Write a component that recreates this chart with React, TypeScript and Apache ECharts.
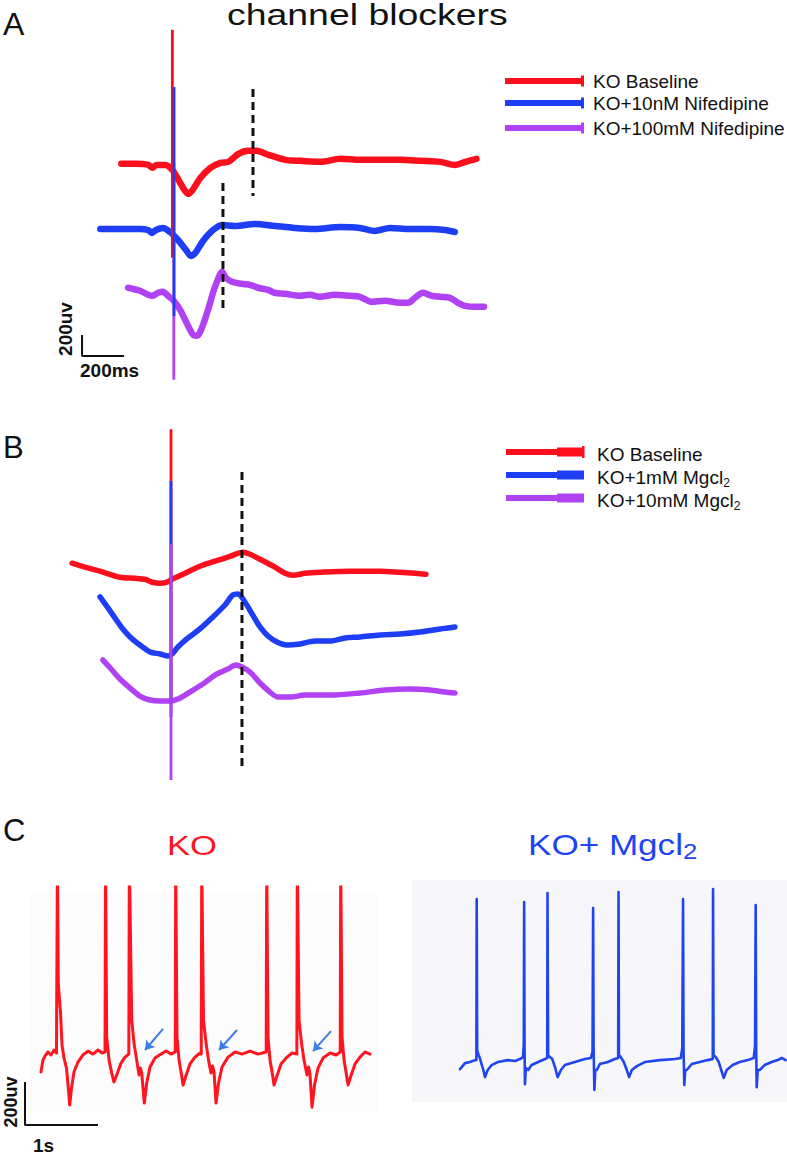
import React, { useEffect, useRef } from "react";
import * as echarts from "echarts";

// ---------- Panel A : ms from stimulus, µV relative to each trace baseline ----------
const redA: number[][] = [
  [-248, 0], [-181, 0], [-119, -10], [-100, -38], [-81, -10], [-38, -10], [-5, -57], [24, -152], [52, -248],
  [71, -286], [95, -238], [129, -133], [176, -38], [224, 10], [262, 19], [310, 95], [357, 124], [395, 124],
  [452, 86], [533, 38], [605, 29], [700, 19], [795, 48], [890, 38], [986, 38], [1081, 38], [1176, 29],
  [1271, 19], [1343, -10], [1390, 19], [1443, 48],
];
const blueA: number[][] = [
  [-348, 0], [-252, 0], [-159, 0], [-121, -10], [-102, -38], [-83, -10], [-50, 10], [-16, -29], [22, -105],
  [60, -200], [84, -257], [108, -219], [141, -114], [184, -19], [232, 38], [293, 29], [389, 48], [484, 29],
  [579, 10], [674, 0], [793, 19], [888, 10], [960, -19], [1031, 10], [1126, 0], [1221, 0], [1293, -10], [1340, -29],
];
const purpleA: number[][] = [
  [-216, 10], [-159, -19], [-102, -67], [-73, -38], [-50, -29], [-26, -67], [-2, -105], [32, -200], [65, -333],
  [94, -438], [113, -448], [136, -371], [165, -200], [193, -10], [217, 114], [231, 162], [250, 105], [279, 67],
  [326, 48], [364, 38], [403, 10], [450, -10], [483, -38], [531, -48], [603, -67], [650, -57], [698, -76],
  [769, -57], [841, -67], [888, -76], [945, -124], [1007, -114], [1079, -133], [1117, -133], [1150, -86],
  [1188, -38], [1231, -67], [1269, -76], [1317, -86], [1355, -133], [1388, -162], [1436, -171], [1479, -171],
];
const offsetsA = [2230, 1610, 1040]; // red, blue, purple
// stimulus artefacts: [time, up, down] relative to baseline
const spikeRedA = [-5, 1276, -895];
const spikeBlueA = [3, 1352, -829];
const spikePurpleA = [2, 1200, -867];
const dashA1 = [[379, 2943], [379, 1924]];
const dashA2 = [[236, 2048], [236, 819]];
const scaleA = [[-435, 600], [-435, 400], [-235, 400]];

// ---------- Panel B ----------
const redB: number[][] = [
  [-471, 86], [-410, 48], [-338, 10], [-243, -48], [-171, -57], [-124, -67], [-90, -95], [-52, -105], [-19, -95],
  [5, -67], [67, -10], [138, 57], [210, 105], [281, 152], [343, 190], [376, 171], [433, 114], [495, 48],
  [543, -10], [581, -29], [638, -10], [710, 0], [852, 10], [995, 10], [1090, 0], [1162, -10], [1214, -19],
];
const blueB: number[][] = [
  [-338, 410], [-300, 305], [-267, 210], [-233, 114], [-195, 29], [-148, -48], [-100, -114], [-52, -133],
  [-14, -152], [5, -133], [33, -67], [81, 19], [138, 105], [195, 210], [257, 333], [295, 429], [319, 438],
  [352, 362], [386, 248], [424, 124], [462, 38], [505, -19], [552, -48], [614, -38], [686, -10], [757, -10],
  [829, 19], [900, 29], [995, 48], [1090, 57], [1186, 76], [1281, 105], [1352, 124],
];
const purpleB: number[][] = [
  [-324, 324], [-281, 229], [-243, 143], [-195, 57], [-148, -19], [-100, -57], [-52, -67], [-5, -67], [33, -48],
  [90, 19], [152, 95], [210, 181], [271, 238], [309, 276], [338, 257], [376, 210], [424, 105], [471, 19],
  [510, -29], [567, -29], [638, -10], [757, -10], [900, 10], [1019, 38], [1138, 48], [1233, 38], [1305, 19], [1352, 10],
];
const offsetsB = [2150, 1505, 990];
const spikeRedB = [0, 1362, -1219];
const spikeBlueB = [0, 1514, -733];
const spikePurpleB = [0, 1429, -819];
const dashB = [[338, 3105], [338, 276]];

// ---------- Panel C (ms, µV) ----------
const koC: number[][] = [
  [315, -80], [342, -25], [370, -6], [411, 13], [452, -1], [493, 22], [527, 8], [534, 8], [540, 900], [552, 333],
  [569, 254], [582, 199], [603, 45], [630, -15], [664, -62], [692, -164], [708, -234], [733, -155], [767, -80],
  [822, -34], [890, -1], [959, 17], [1028, 3], [1096, 22], [1151, 8], [1192, 13],
  [1199, 900], [1215, 82], [1247, -25], [1284, -85], [1315, -127], [1352, -94], [1411, -39], [1466, -11], [1518, 3],
  [1525, 900], [1558, 161], [1589, 54], [1626, -25], [1658, -94], [1676, -62], [1695, -85], [1730, -225],
  [1763, -132], [1808, -57], [1877, -15], [1959, 3], [2028, 17], [2096, 3], [2154, 13],
  [2160, 900], [2178, 82], [2206, -25], [2240, -94], [2261, -141], [2295, -104], [2356, -43], [2425, -11],
  [2493, 8], [2510, 3],
  [2517, 900], [2541, 161], [2576, 54], [2610, -25], [2644, -85], [2665, -52], [2685, -80], [2713, -225],
  [2747, -132], [2795, -57], [2877, -11], [2973, 13], [3069, 3], [3178, 17], [3288, 3], [3400, 13],
  [3407, 900], [3425, 82], [3452, -25], [3487, -94], [3507, -141], [3542, -104], [3603, -43], [3685, -11],
  [3754, 8], [3820, 3],
  [3826, 900], [3850, 161], [3884, 54], [3918, -25], [3959, -94], [3980, -57], [4000, -90], [4028, -244],
  [4062, -141], [4110, -62], [4179, -15], [4274, 8], [4357, -1], [4414, 13],
  [4421, 900], [4439, 82], [4466, -25], [4500, -94], [4521, -141], [4555, -104], [4617, -43], [4685, -11],
  [4754, 13], [4822, 3],
];
const mgC: number[][] = [
  [575, -67], [644, -39], [712, -34], [781, -25], [800, -25], [804, 724], [811, 22], [829, -1], [843, -11],
  [863, -34], [895, -71], [918, -104], [955, -71], [1009, -48], [1095, -34], [1232, -25], [1328, -29],
  [1397, -20], [1438, -11], [1449, 45], [1454, 710], [1460, 22], [1465, -137], [1478, -62], [1510, -71],
  [1556, -48], [1647, -34], [1739, -20], [1770, -15], [1774, 752], [1783, -1], [1807, -11], [1839, -20],
  [1876, -57], [1913, -104], [1958, -71], [2012, -48], [2149, -34], [2286, -20], [2368, -15], [2391, 13],
  [2399, 682], [2406, 22], [2416, -164], [2429, -71], [2450, -71], [2491, -43], [2600, -34], [2696, -20],
  [2742, -15], [2747, 757], [2753, -1], [2778, -11], [2819, -34], [2860, -71], [2892, -104], [2929, -71],
  [2997, -53], [3107, -34], [3312, -25], [3518, -20], [3600, -15], [3620, 31], [3631, 724], [3638, 22],
  [3648, -141], [3661, -71], [3682, -71], [3750, -43], [3860, -34], [3969, -25], [4038, -20], [4042, 771],
  [4049, -1], [4079, -11], [4120, -34], [4154, -71], [4188, -108], [4229, -71], [4311, -48], [4407, -34],
  [4517, -25], [4599, -15], [4617, 40], [4626, 696], [4633, 31], [4640, -151], [4654, -71], [4681, -71],
  [4749, -48], [4845, -34], [4927, -25], [4982, -15], [5037, -25],
];
const arrowsC = [
  [[1987, 120], [1740, 22]],
  [[3000, 115], [2754, 22]],
  [[4288, 110], [4042, 17]],
];
const scaleC = [[96, -127], [96, -327], [1096, -327]];

const legendA = ["KO Baseline", "KO+10nM Nifedipine", "KO+100mM Nifedipine"];
const legendB = ["KO Baseline", "KO+1mM Mgcl", "KO+10mM Mgcl"];

const RED = "#fc0f1d";
const BLUE = "#1d3ef4";
const PURPLE = "#b042f4";
const FONT = "Liberation Sans, Arial, sans-serif";

function buildOption() {
  const trace = (g: number, data: number[][], off: number, color: string, width: number, smooth: number | boolean) => ({
    type: "line", xAxisIndex: g, yAxisIndex: g, silent: true, symbol: "none", smooth,
    data: data.map(([t, v]) => [t, v + off]),
    lineStyle: { color, width, cap: "round", join: "round" },
  });
  const spike = (g: number, s: number[], off: number, color: string) => ({
    type: "line", xAxisIndex: g, yAxisIndex: g, silent: true, symbol: "none",
    data: [[s[0], off + s[1]], [s[0], off + s[2]]],
    lineStyle: { color, width: 2.8, cap: "butt" },
  });
  const plain = (g: number, data: number[][], color: string, width: number, type: any) => ({
    type: "line", xAxisIndex: g, yAxisIndex: g, silent: true, symbol: "none", data,
    lineStyle: { color, width, type, cap: "butt" },
  });
  const colorsAB = [RED, BLUE, PURPLE];

  const series: any[] = [
    trace(0, redA, offsetsA[0], RED, 6.5, 0.3),
    trace(0, blueA, offsetsA[1], BLUE, 6.5, 0.3),
    trace(0, purpleA, offsetsA[2], PURPLE, 6.5, 0.3),
    spike(0, spikePurpleA, offsetsA[2], PURPLE),
    spike(0, spikeRedA, offsetsA[0], RED),
    spike(0, spikeBlueA, offsetsA[1], BLUE),
    plain(0, dashA1, "#111", 3, [8, 5]),
    plain(0, dashA2, "#111", 3, [8, 5]),
    plain(0, scaleA, "#111", 2, "solid"),

    trace(1, redB, offsetsB[0], RED, 5.5, 0.3),
    trace(1, blueB, offsetsB[1], BLUE, 5.5, 0.3),
    trace(1, purpleB, offsetsB[2], PURPLE, 5.5, 0.3),
    spike(1, spikeRedB, offsetsB[0], RED),
    spike(1, spikeBlueB, offsetsB[1], BLUE),
    spike(1, spikePurpleB, offsetsB[2], PURPLE),
    plain(1, dashB, "#111", 3, [8, 5]),

    {
      ...trace(2, koC, 0, "#ff1420", 3, false),
      markLine: {
        silent: true, symbol: ["none", "arrow"], symbolSize: 9, animation: false,
        label: { show: false },
        lineStyle: { color: "#3d7be8", width: 2, type: "solid" },
        data: arrowsC.map(([a, b]) => [{ coord: a }, { coord: b }]),
      },
    },
    plain(2, scaleC, "#111", 2, "solid"),
    trace(3, mgC, 0, "#1f45f0", 2.6, false),
  ];

  const grid = [
    { left: 60, top: 20, width: 441, height: 378 },
    { left: 57.6, top: 420, width: 441, height: 378 },
    { left: 18, top: 887, width: 365, height: 243 },
    { left: 418, top: 887, width: 369, height: 243 },
  ].map((g) => ({ ...g, show: false, containLabel: false, outerBoundsMode: "none" }));
  const xr = [[-540, 1560], [-540, 1560], [0, 5000], [0, 5055]];
  const yr = [[0, 3600], [0, 3600], [-350, 780], [-350, 780]];
  const xAxis = xr.map((r, i) => ({ type: "value", gridIndex: i, min: r[0], max: r[1], show: false }));
  const yAxis = yr.map((r, i) => ({ type: "value", gridIndex: i, min: r[0], max: r[1], show: false }));

  const txt = (x: number, y: number, text: string, size: number, extra: any = {}, el: any = {}) => ({
    type: "text", x, y, silent: true, ...el,
    style: { text, fontSize: size, fontFamily: FONT, fill: "#111", align: "left", verticalAlign: "middle", ...extra },
  });

  const graphic: any[] = [
    { type: "rect", shape: { x: 30, y: 892, width: 348, height: 221 }, style: { fill: "#fcfcfd" }, z: -10, silent: true },
    { type: "rect", shape: { x: 412, y: 880, width: 375, height: 222 }, style: { fill: "#f7f7f9" }, z: -10, silent: true },
    txt(3, 24, "A", 32),
    txt(3, 447, "B", 31),
    txt(3, 830, "C", 31),
    txt(227, 15, "channel blockers", 29, {}, { scaleX: 1.29 }),
    txt(65, 329, "200uv", 19, { fontWeight: "bold", align: "center" }, { rotation: Math.PI / 2 }),
    txt(80, 370, "200ms", 19, { fontWeight: "bold" }),
    txt(11, 1102, "200uv", 18, { fontWeight: "bold", align: "center" }, { rotation: Math.PI / 2 }),
    txt(33, 1145, "1s", 19, { fontWeight: "bold" }),
    txt(167, 846, "KO", 27, { fill: "#ff1420" }, { scaleX: 1.28 }),
    {
      type: "text", x: 528, y: 844, scaleX: 1.17, silent: true,
      style: {
        text: "{a|KO+ Mgcl}{s|2}", fill: "#1f45f0", fontFamily: FONT, align: "left", verticalAlign: "middle",
        rich: {
          a: { fontSize: 30, lineHeight: 36, fontFamily: FONT, fill: "#1f45f0" },
          s: { fontSize: 22, lineHeight: 14, verticalAlign: "bottom", fontFamily: FONT, fill: "#1f45f0" },
        },
      },
    },
  ];
  // legend A
  const lyA = [81, 103, 128];
  legendA.forEach((label, i) => {
    const y = lyA[i];
    graphic.push({ type: "rect", shape: { x: 505, y: y - 3, width: 78, height: 6 }, style: { fill: colorsAB[i] }, silent: true });
    graphic.push({ type: "rect", shape: { x: 581, y: y - 5.5, width: 3, height: 11 }, style: { fill: colorsAB[i] }, silent: true });
    graphic.push(txt(593, y, label, 19));
  });
  // legend B
  const lyB = [452, 475, 498];
  legendB.forEach((label, i) => {
    const y = lyB[i];
    graphic.push({ type: "rect", shape: { x: 506, y: y - 3, width: 52, height: 6 }, style: { fill: colorsAB[i] }, silent: true });
    graphic.push({ type: "rect", shape: { x: 557, y: y - 4.5, width: 27, height: 9 }, style: { fill: colorsAB[i] }, silent: true });
    if (i === 0) graphic.push({ type: "rect", shape: { x: 582, y: y - 6, width: 2.5, height: 12 }, style: { fill: colorsAB[i] }, silent: true });
    const text = i === 0 ? "{a|" + label + "}" : "{a|" + label + "}{s|2}";
    graphic.push({
      type: "text", x: 597, y: y + 2, silent: true,
      style: {
        text, fill: "#111", fontFamily: FONT, align: "left", verticalAlign: "middle",
        rich: {
          a: { fontSize: 19, lineHeight: 24, fontFamily: FONT, fill: "#111" },
          s: { fontSize: 12, lineHeight: 10, verticalAlign: "bottom", fontFamily: FONT, fill: "#111" },
        },
      },
    });
  });

  return { animation: false, backgroundColor: "#fff", grid, xAxis, yAxis, series, graphic };
}

export default function App() {
  const ref = useRef<HTMLDivElement>(null);
  useEffect(() => {
    const chart = echarts.init(ref.current!, null, { renderer: "svg" });
    chart.setOption(buildOption() as any);
    return () => chart.dispose();
  }, []);
  return <div ref={ref} style={{ position: "absolute", left: 0, top: 0, width: 787, height: 1154 }} />;
}
